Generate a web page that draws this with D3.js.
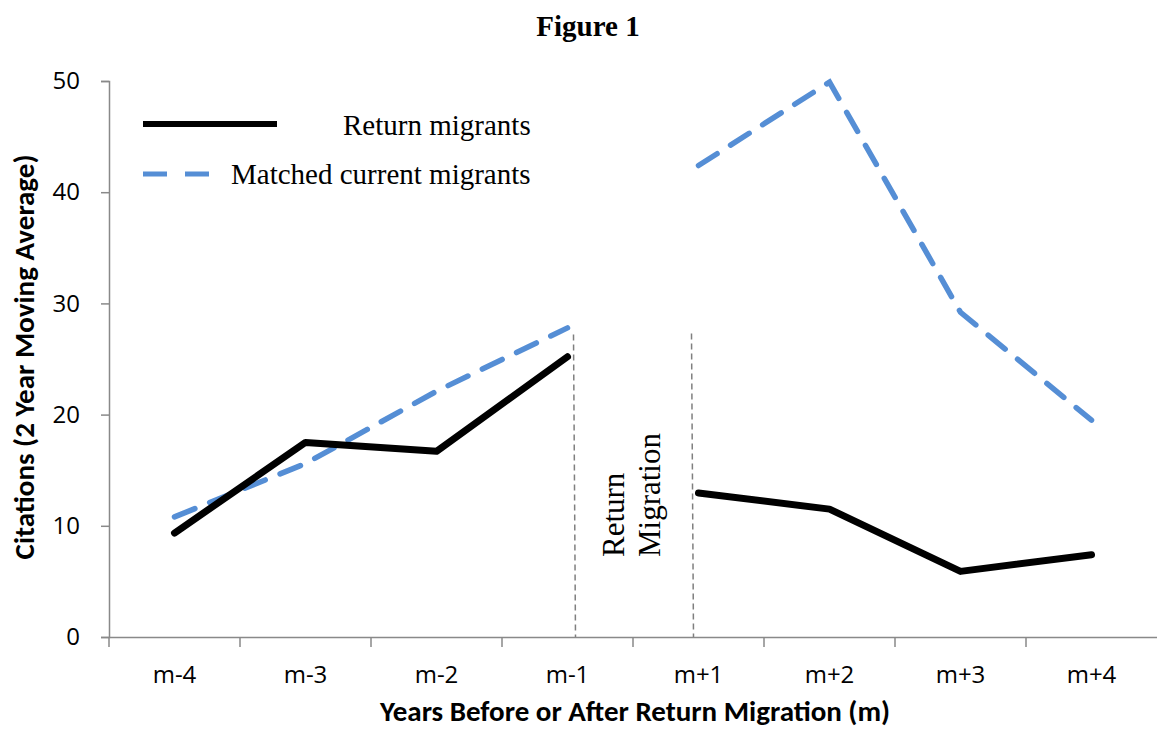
<!DOCTYPE html>
<html>
<head>
<meta charset="utf-8">
<script src="https://cdn.jsdelivr.net/npm/d3@7"></script>
<style>
body { margin: 0; background: #fff; }
</style>
</head>
<body>
<svg id="chart" width="1157" height="733"></svg>
<script>
const categories = ['m-4', 'm-3', 'm-2', 'm-1', 'm+1', 'm+2', 'm+3', 'm+4'];
const return_migrants = [9.35, 17.5, 16.7, 25.2, 12.95, 11.5, 5.9, 7.4];
const matched_migrants = [10.8, 15.6, 22.1, 27.8, 42.4, 49.9, 29.2, 19.5];
const y_ticks = [0, 10, 20, 30, 40, 50];

let svg = d3.select('#chart'),
	plot_left = 109,
	plot_right = 1157,
	plot_top = 81,
	plot_bottom = 637,
	axis_color = '#898989',
	sans = 'Carlito, Calibri, "Liberation Sans Narrow", "Open Sans", sans-serif',
	serif = '"Liberation Serif", "Times New Roman", serif';

let x = d3.scaleBand()
	.domain(categories)
	.range([plot_left, plot_right]);
let y = d3.scaleLinear()
	.domain([0, 50])
	.range([plot_bottom, plot_top]);

// title
svg.append('text')
	.attr('x', 588)
	.attr('y', 36)
	.attr('text-anchor', 'middle')
	.style('font-family', serif)
	.style('font-weight', 'bold')
	.style('font-size', '29px')
	.text('Figure 1');

// y axis
let y_axis = svg.append('g')
	.attr('transform', `translate(${plot_left}, 0)`)
	.call(d3.axisLeft(y).tickValues(y_ticks).tickSize(8).tickPadding(21));
y_axis.selectAll('text')
	.style('font-family', '"Open Sans", sans-serif')
	.style('font-size', '24px')
	.attr('fill', '#000');

// x axis, ticks between categories
let x_axis = svg.append('g')
	.attr('transform', `translate(0, ${plot_bottom})`)
	.call(d3.axisBottom(x).tickSize(0).tickPadding(29));
x_axis.selectAll('text')
	.style('font-family', '"Open Sans", sans-serif')
	.style('font-size', '24px')
	.attr('fill', '#000');
x_axis.selectAll('.xsep')
	.data(categories).enter()
	.append('line')
	.attr('class', 'xsep')
	.attr('x1', d => x(d))
	.attr('x2', d => x(d))
	.attr('y1', 0)
	.attr('y2', 10)
	.attr('stroke', axis_color);

svg.selectAll('.domain').attr('stroke', axis_color).attr('stroke-width', 1.5);
svg.selectAll('.tick line').attr('stroke', axis_color).attr('stroke-width', 1.5);
x_axis.selectAll('.xsep').attr('stroke-width', 1.5);

// axis titles
svg.append('text')
	.attr('x', 635)
	.attr('y', 721)
	.attr('text-anchor', 'middle')
	.style('font-family', sans)
	.style('font-weight', 'bold')
	.style('font-size', '29px')
	.text('Years Before or After Return Migration (m)');

svg.append('text')
	.attr('transform', `translate(34, 357) rotate(-90)`)
	.attr('text-anchor', 'middle')
	.style('font-family', sans)
	.style('font-weight', 'bold')
	.style('font-size', '29px')
	.text('Citations (2 Year Moving Average)');

// return migration markers
let cx = d => x(d) + x.bandwidth() / 2;
svg.append('line')
	.attr('x1', cx('m-1') + 6).attr('x2', cx('m-1') + 8)
	.attr('y1', y(27.2)).attr('y2', plot_bottom)
	.attr('stroke', '#7f7f7f').attr('stroke-width', 1.5)
	.attr('stroke-dasharray', '6,4');
svg.append('line')
	.attr('x1', cx('m+1') - 7).attr('x2', cx('m+1') - 5)
	.attr('y1', y(27.3)).attr('y2', plot_bottom)
	.attr('stroke', '#7f7f7f').attr('stroke-width', 1.5)
	.attr('stroke-dasharray', '6,4');

let rm = svg.append('text')
	.attr('transform', `translate(632, 557) rotate(-90)`)
	.style('font-family', serif)
	.style('font-size', '31px');
rm.append('tspan').attr('x', 0).attr('dy', '-0.25em').text('Return');
rm.append('tspan').attr('x', 0).attr('dy', '1.15em').text('Migration');

// series, broken at the migration year
let line = d3.line()
	.x(d => cx(d.cat))
	.y(d => y(d.v));

function segments(values) {
	let pts = categories.map((c, i) => ({cat: c, v: values[i]}));
	return [pts.slice(0, 4), pts.slice(4)];
}

svg.selectAll('.matched')
	.data(segments(matched_migrants)).enter()
	.append('path')
	.attr('class', 'matched')
	.attr('d', line)
	.attr('fill', 'none')
	.attr('stroke', '#558ed5')
	.attr('stroke-width', 5.5)
	.attr('stroke-linecap', 'round')
	.attr('stroke-dasharray', '22,16');

svg.selectAll('.returned')
	.data(segments(return_migrants)).enter()
	.append('path')
	.attr('class', 'returned')
	.attr('d', line)
	.attr('fill', 'none')
	.attr('stroke', '#000')
	.attr('stroke-width', 7)
	.attr('stroke-linecap', 'round')
	.attr('stroke-linejoin', 'round');

// legend
let legend = svg.append('g');
legend.append('line')
	.attr('x1', 143).attr('x2', 277)
	.attr('y1', 124).attr('y2', 124)
	.attr('stroke', '#000').attr('stroke-width', 6);
legend.append('text')
	.attr('x', 343).attr('y', 135)
	.style('font-family', serif).style('font-size', '29px')
	.text('Return migrants');
legend.append('line')
	.attr('x1', 143).attr('x2', 210)
	.attr('y1', 174).attr('y2', 174)
	.attr('stroke', '#558ed5').attr('stroke-width', 5)
	.attr('stroke-dasharray', '24,18');
legend.append('text')
	.attr('x', 231).attr('y', 184)
	.style('font-family', serif).style('font-size', '29px')
	.text('Matched current migrants');
</script>
</body>
</html>
